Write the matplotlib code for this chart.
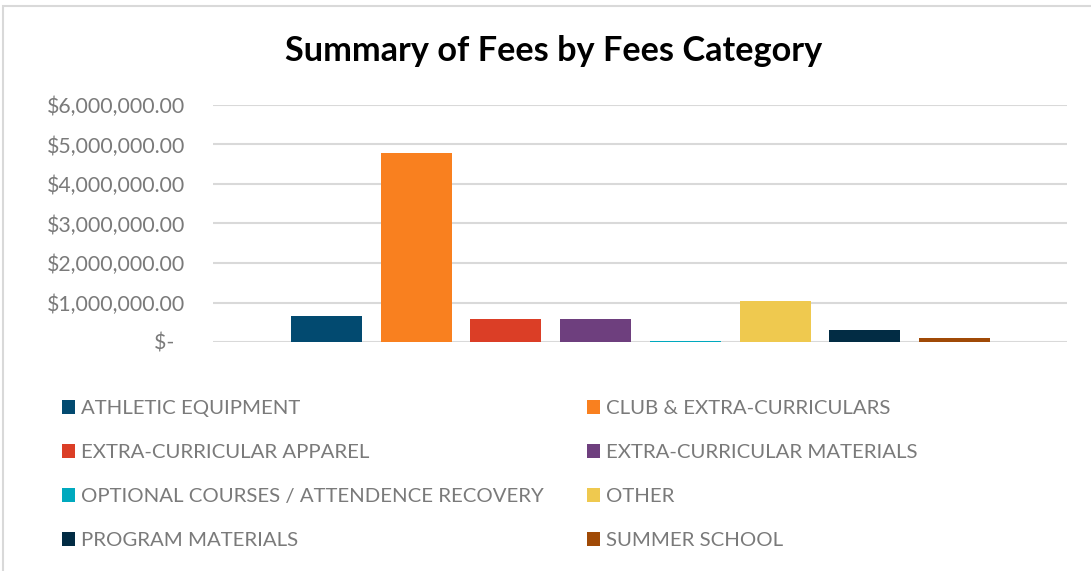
"""Summary of fees by fees category - single group column chart"""

import matplotlib.pyplot as plt
from matplotlib.patches import Rectangle
from matplotlib.ticker import FuncFormatter

# Fee categories (one bar each) and their totals in dollars
categories = [
    "ATHLETIC EQUIPMENT",
    "CLUB & EXTRA-CURRICULARS",
    "EXTRA-CURRICULAR APPAREL",
    "EXTRA-CURRICULAR MATERIALS",
    "OPTIONAL COURSES / ATTENDENCE RECOVERY",
    "OTHER",
    "PROGRAM MATERIALS",
    "SUMMER SCHOOL",
]
totals = [660000, 4780000, 580000, 580000, 20000, 1040000, 300000, 100000]
colours = ["#024A70", "#F9801F", "#DB3E26", "#6E3F7E",
           "#00A9BE", "#EFC94F", "#022C44", "#A04A06"]
y_ticks = [0, 1e6, 2e6, 3e6, 4e6, 5e6, 6e6]

TEXT_GREY = "#7a7a7a"
GRID_GREY = "#d9d9d9"


def money(v, pos=None):
    # Excel accounting format: zero shows as a dash
    if v == 0:
        return "$-\u2002"
    return "${:,.2f}".format(v)


if __name__ == "__main__":
    plt.rcParams["font.family"] = ["Lato", "DejaVu Sans"]

    fig = plt.figure(figsize=(10.91, 5.71), dpi=100)
    ax = fig.add_axes([213 / 1091, 1 - 342 / 571, 854 / 1091, 237 / 571])

    bars = []
    for i, (cat, val, col) in enumerate(zip(categories, totals, colours)):
        bars.append(ax.bar(i, val, width=0.79, color=col, label=cat, zorder=3))

    ax.set_xlim(-1.265, 8.254)
    ax.set_ylim(0, 6e6)
    ax.set_yticks(y_ticks)
    ax.yaxis.set_major_formatter(FuncFormatter(money))
    ax.set_xticks([])
    ax.grid(axis="y", color=GRID_GREY, linewidth=1.5, zorder=0)
    ax.tick_params(axis="y", length=0, pad=20, labelsize=15.3, labelcolor=TEXT_GREY)
    for s in ax.spines.values():
        s.set_visible(False)

    fig.text(554 / 1091, 1 - 51 / 571, "Summary of Fees by Fees Category",
             ha="center", va="center", fontsize=24.7, fontweight="bold",
             color="black")

    # Legend: two columns laid out row by row as in the source
    for col_idx, x0 in enumerate([62, 587]):
        handles = [bars[i] for i in range(col_idx, len(bars), 2)]
        labels = [categories[i] for i in range(col_idx, len(bars), 2)]
        fig.legend(handles, labels, loc="upper left",
                   bbox_to_anchor=(x0 / 1091, 1 - 400 / 571),
                   frameon=False, fontsize=14.7, labelcolor=TEXT_GREY,
                   handlelength=0.65, handleheight=0.65,
                   handletextpad=0.3, labelspacing=1.33,
                   borderpad=0, borderaxespad=0)

    # light chart border
    fig.add_artist(Rectangle((3 / 1091, -0.05), 1.1, 1 - 6 / 571 + 0.05,
                             transform=fig.transFigure, fill=False,
                             edgecolor=GRID_GREY, linewidth=1.5))

    fig.savefig("out.png", dpi=100)
